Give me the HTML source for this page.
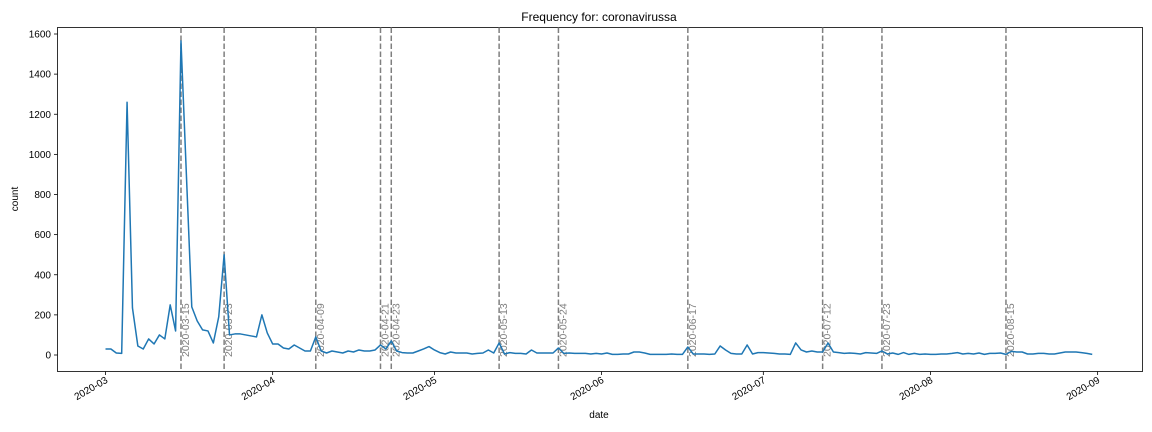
<!DOCTYPE html>
<html><head><meta charset="utf-8"><style>
body{margin:0;background:#fff;}
svg{display:block;font-family:"Liberation Sans",sans-serif;}
</style></head><body>
<svg id="chart" width="1152" height="432" xmlns="http://www.w3.org/2000/svg">
<text x="599" y="21" font-size="12" text-anchor="middle">Frequency for: coronavirussa</text>
<text x="599" y="418" font-size="10" text-anchor="middle">date</text>
<text transform="translate(18,199) rotate(-90)" font-size="10" text-anchor="middle">count</text>
<rect x="57.5" y="27.5" width="1085" height="344" fill="none" stroke="#000" stroke-width="0.8"/>
</svg>
<script>
const yTicks=[0,200,400,600,800,1000,1200,1400,1600];
const xTickLabels=["2020-03","2020-04","2020-05","2020-06","2020-07","2020-08","2020-09"];
const xTickDays=[0,31,61,92,122,153,184];
const eventLabels=["2020-03-15","2020-03-23","2020-04-09","2020-04-21","2020-04-23","2020-05-13","2020-05-24","2020-06-17","2020-07-12","2020-07-23","2020-08-15"];
const eventDays=[14,22,39,51,53,73,84,108,133,144,167];
const countsMar=[30,30,10,8,1260,235,45,30,80,55,100,80,250,120,1565,900,240,170,125,120,60,190,500,100,105,105,100,95,90,200,110];
const countsApr=[55,55,35,30,50,35,20,20,90,20,10,20,15,10,20,15,25,20,20,25,50,30,70,20,12,10,10,20,30,42];
const countsMay=[25,12,5,15,10,10,10,5,8,10,25,10,60,5,12,8,8,5,25,10,10,10,10,35,8,10,8,8,8,5,8];
const countsJun=[5,10,3,3,5,5,15,15,10,3,3,3,3,5,3,3,40,5,5,5,3,5,45,25,8,5,5,50,5,12];
const countsJul=[12,10,8,5,5,3,60,25,15,20,15,15,60,15,12,8,10,8,5,12,10,8,20,5,10,3,12,3,8,3,5];
const countsAug=[3,3,5,5,8,12,5,8,5,10,3,8,8,10,3,18,15,15,5,5,8,8,5,5,10,15,15,15,12,8,3];
const counts=[].concat(countsMar,countsApr,countsMay,countsJun,countsJul,countsAug);
const NS="http://www.w3.org/2000/svg";
const svg=document.getElementById('chart');
const X=d=>105.5+d*5.392;
const Y=v=>355-v*(321/1600);
function mk(tag,attrs){const e=document.createElementNS(NS,tag);for(const k in attrs)e.setAttribute(k,attrs[k]);svg.appendChild(e);return e;}
yTicks.forEach(v=>{
  const t=mk('line',{x1:54,x2:57.5,y1:Y(v),y2:Y(v),stroke:'#000','stroke-width':0.8});
  
  
  const l=mk('text',{x:51,y:Y(v)+3.5,'font-size':10,'text-anchor':'end'});
  
  
  l.textContent=v;
});
xTickDays.forEach((d,i)=>{
  const t=mk('line',{x1:X(d),x2:X(d),y1:371.5,y2:375,stroke:'#000','stroke-width':0.8});
  
  
  const l=mk('text',{transform:`translate(${X(d)+3},${382}) rotate(-30)`,'font-size':10,'text-anchor':'end'});
  
  
  l.textContent=xTickLabels[i];
});
eventDays.forEach((d,i)=>{
  const ln=mk('line',{x1:X(d),x2:X(d),y1:27.5,y2:371.5,stroke:'#7f7f7f','stroke-width':1.5,'stroke-dasharray':'5.5,2.5'});
  
  
  const tx=mk('text',{transform:`translate(${X(d)+8},357) rotate(-90)`,'font-size':10.5,fill:'#7f7f7f'});
  
  
  tx.textContent=eventLabels[i];
});
const pts=counts.map((v,i)=>X(i).toFixed(2)+','+Y(v).toFixed(2)).join(' ');
const pl=mk('polyline',{points:pts,fill:'none',stroke:'#1f77b4','stroke-width':1.5,'stroke-linejoin':'round'});


</script>
</body></html>
